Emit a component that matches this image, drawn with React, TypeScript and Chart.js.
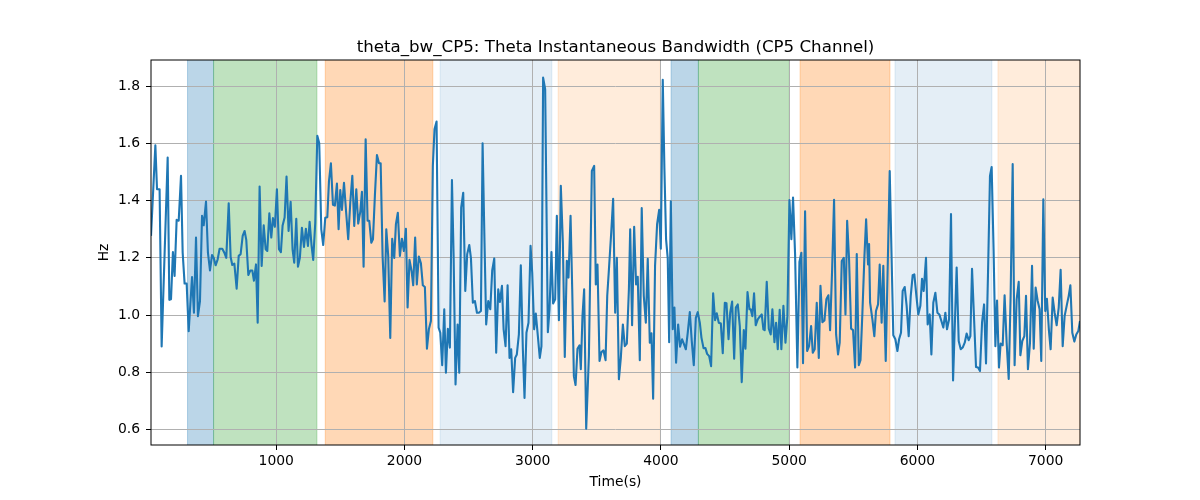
import React, { useEffect, useRef } from "react";
import { Chart, registerables } from "chart.js";

Chart.register(...registerables);

// sample times (s) and theta bandwidth (Hz)
const timeS = [
  23, 57, 70, 90, 106, 153, 166, 179, 194, 207, 223, 239, 257, 270, 285, 301, 317, 343, 358, 374,
  389, 405, 421, 434, 452, 467, 483, 499, 512, 527, 543, 558, 579, 595, 610, 629, 644, 657, 673, 691,
  707, 722, 738, 753, 766, 782, 798, 813, 826, 842, 855, 870, 886, 902, 917, 930, 946,
  961, 974, 989, 1005, 1021, 1036, 1049, 1065, 1080, 1096, 1112, 1127, 1140, 1156, 1169, 1184, 1200,
  1216, 1231, 1247, 1260, 1275, 1288, 1304, 1320, 1335, 1351, 1366, 1382, 1398, 1411, 1426, 1442,
  1457, 1473, 1486, 1499, 1512, 1528, 1543, 1561, 1577, 1593, 1608, 1624, 1639, 1655, 1668, 1681,
  1697, 1712, 1725, 1741, 1754, 1769, 1785, 1801, 1814, 1829, 1845, 1858, 1873, 1889,
  1904, 1920, 1933, 1948, 1964, 1980, 1995, 2011, 2024, 2039, 2055, 2068, 2083, 2096, 2112, 2128,
  2143, 2159, 2175, 2190, 2206, 2221, 2234, 2250, 2266, 2279, 2294, 2310, 2323, 2338, 2354, 2370,
  2383, 2398, 2414, 2427, 2442, 2458, 2474, 2489, 2505, 2518, 2533, 2549, 2565, 2580, 2596, 2609,
  2624, 2637, 2653, 2669, 2684, 2700, 2715, 2731, 2744, 2760, 2773, 2788, 2804, 2819,
  2832, 2847, 2863, 2876, 2892, 2907, 2923, 2936, 2951, 2967, 2983, 2996, 3011, 3024, 3040, 3055,
  3068, 3081, 3097, 3118, 3131, 3146, 3159, 3175, 3188, 3204, 3219, 3235, 3250, 3266, 3279, 3295,
  3308, 3321, 3334, 3349, 3365, 3375, 3388, 3401, 3417, 3438, 3461, 3479, 3492, 3505, 3521, 3536,
  3552, 3568, 3581, 3596, 3612, 3627, 3643, 3656, 3672, 3687, 3703, 3718, 3734, 3750, 3760,
  3775, 3791, 3806, 3819, 3835, 3850, 3866, 3882, 3897, 3913, 3926, 3939, 3954, 3970, 3986, 3999,
  4014, 4027, 4040, 4053, 4064, 4077, 4092, 4105, 4118, 4134, 4149, 4165, 4178, 4194, 4209, 4225,
  4240, 4256, 4272, 4287, 4303, 4316, 4332, 4347, 4360, 4376, 4391, 4407, 4422, 4435, 4451, 4467,
  4482, 4498, 4511, 4527, 4540, 4555, 4571, 4584, 4599, 4615, 4630, 4646, 4659, 4675, 4690,
  4700, 4713, 4726, 4739, 4755, 4770, 4786, 4799, 4809, 4825, 4841, 4856, 4869, 4885, 4898, 4911,
  4926, 4939, 4955, 4971, 4986, 5002, 5017, 5030, 5046, 5064, 5080, 5095, 5108, 5124, 5140, 5155,
  5171, 5184, 5199, 5215, 5231, 5244, 5259, 5275, 5290, 5306, 5319, 5335, 5350, 5366, 5381, 5394,
  5410, 5426, 5439, 5452, 5467, 5483, 5498, 5514, 5527, 5543, 5556, 5571, 5587, 5600, 5615, 5623, 5631,
  5649, 5664, 5677, 5693, 5706, 5721, 5734, 5753, 5784, 5799, 5812, 5828, 5844, 5857, 5872, 5885,
  5901, 5916, 5932, 5948, 5963, 5976, 5992, 6007, 6023, 6036, 6049, 6067, 6080, 6096, 6109, 6124,
  6140, 6156, 6171, 6187, 6202, 6218, 6231, 6247, 6262, 6278, 6306, 6322, 6338, 6353, 6369, 6384,
  6400, 6413, 6426, 6442, 6457, 6473, 6488, 6504, 6520, 6535, 6551, 6566,
  6579, 6594, 6608, 6621, 6636, 6649, 6665, 6680, 6696, 6712, 6727, 6743, 6758, 6774, 6790, 6803,
  6818, 6834, 6847, 6862, 6878, 6894, 6907, 6922, 6938, 6953, 6966, 6982, 6997, 7010, 7026, 7039,
  7055, 7070, 7086, 7102, 7117, 7133, 7148, 7164, 7180, 7193, 7208, 7224, 7239, 7255, 7268,
];

const thetaBwHz = [
  1.277, 1.594, 1.44, 1.44, 0.89, 1.551, 1.053, 1.055, 1.22, 1.137, 1.333, 1.33, 1.487, 1.218, 1.11, 1.11, 0.943, 1.133, 1.008, 1.271,
  0.996, 1.049, 1.347, 1.314, 1.397, 1.218, 1.156, 1.21, 1.2, 1.174, 1.195, 1.232, 1.232, 1.218, 1.2, 1.391, 1.203, 1.175, 1.18, 1.092,
  1.207, 1.213, 1.277, 1.294, 1.263, 1.14, 1.156, 1.156, 1.12, 1.177, 0.973, 1.45, 1.172, 1.314, 1.23, 1.224, 1.356,
  1.271, 1.339, 1.309, 1.44, 1.23, 1.22, 1.312, 1.341, 1.485, 1.294, 1.396, 1.23, 1.183, 1.337, 1.169, 1.2, 1.305,
  1.238, 1.302, 1.242, 1.326, 1.244, 1.193, 1.323, 1.627, 1.601, 1.3, 1.245, 1.34, 1.342, 1.469, 1.531, 1.386,
  1.383, 1.46, 1.3, 1.437, 1.368, 1.463, 1.37, 1.265, 1.393, 1.487, 1.312, 1.44, 1.32, 1.361, 1.431, 1.169,
  1.615, 1.33, 1.33, 1.253, 1.265, 1.417, 1.56, 1.531, 1.531, 1.207, 1.047, 1.3, 1.207, 0.92,
  1.267, 1.2, 1.318, 1.358, 1.207, 1.267, 1.224, 1.302, 1.026, 1.193, 1.154, 1.104, 1.271, 1.107, 1.205, 1.181,
  1.104, 1.098, 0.882, 0.95, 0.979, 1.522, 1.65, 1.677, 0.956, 0.938, 0.824, 1.02, 0.798, 0.952, 0.886, 1.472,
  1.207, 0.757, 0.967, 0.798, 1.376, 1.428, 1.084, 1.213, 1.245, 1.2, 1.043, 1.049, 1.008, 1.008, 1.014, 1.601,
  1.253, 0.967, 1.049, 1.02, 1.156, 1.198, 0.868, 1.09, 1.046, 1.102, 0.95, 0.891, 1.104, 0.85,
  0.88, 0.73, 0.85, 0.862, 0.932, 1.174, 0.88, 0.71, 0.938, 0.973, 1.242, 1.148, 0.95, 1.005, 0.926, 0.85,
  0.891, 1.831, 1.79, 0.94, 1.02, 1.22, 1.04, 1.055, 1.347, 0.982, 1.452, 1.253, 0.853, 1.19, 1.131, 1.347,
  1.09, 0.786, 0.755, 0.882, 0.894, 0.81, 0.996, 1.09, 0.602, 0.856, 1.504, 1.522, 1.107, 1.177, 0.839, 0.87,
  0.876, 0.842, 1.067, 1.172, 1.288, 1.407, 1.008, 1.2, 0.775, 0.85, 0.967, 0.891, 0.9, 1.09, 1.3,
  0.964, 1.309, 1.107, 1.134, 0.842, 1.374, 1.067, 0.973, 1.197, 0.903, 0.936, 0.707, 1.172, 1.318, 1.368, 1.232,
  1.823, 1.51, 1.265, 1.197, 0.905, 1.398, 0.95, 1.026, 0.833, 0.967, 0.889, 0.915, 0.9, 0.88, 0.938, 1.01,
  0.91, 0.824, 0.99, 1.01, 0.973, 0.92, 0.884, 0.884, 0.864, 0.856, 0.821, 1.076, 0.982, 1.006, 0.973, 0.97,
  0.866, 1.043, 1.041, 0.915, 1.008, 1.047, 0.847, 1.026, 1.037, 0.961, 0.765, 0.947, 0.882, 1.08, 1.02,
  1.02, 0.996, 1.076, 0.964, 0.985, 0.994, 1.002, 0.95, 0.947, 1.116, 0.952, 0.932, 1.02, 0.905, 0.973, 0.88,
  1.018, 0.88, 1.032, 0.903, 0.996, 1.402, 1.265, 1.411, 1.213, 0.816, 1.186, 1.218, 0.831, 1.363, 0.874, 0.891,
  0.961, 0.868, 0.88, 1.043, 0.85, 1.102, 0.975, 0.981, 1.055, 1.069, 0.947, 1.16, 1.403, 0.932, 0.862, 0.903,
  1.189, 1.2, 1.002, 1.33, 1.195, 0.952, 0.947, 0.816, 1.213, 0.824, 0.842, 1.008, 1.207, 1.335, 1.177, 1.248, 1.043,
  0.985, 0.926, 1.014, 1.037, 1.177, 0.973, 1.172, 0.839, 1.504, 1.195, 0.929, 0.915, 0.874, 0.915, 0.938, 1.084,
  1.098, 1.032, 0.926, 1.067, 1.139, 1.142, 1.067, 1.002, 1.032, 1.127, 1.084, 1.2, 0.967, 1.002, 0.862, 1.043,
  1.078, 1.008, 1.002, 0.979, 0.956, 1.008, 0.95, 0.985, 1.353, 0.771, 1.166, 0.909, 0.88, 0.886, 0.903, 0.935,
  0.912, 0.926, 1.162, 0.985, 0.818, 0.816, 0.804, 0.973, 1.037, 0.83, 1.154, 1.487,
  1.518, 1.23, 0.891, 1.051, 0.816, 0.9, 0.894, 1.069, 0.903, 0.776, 1.067, 1.528, 0.824, 1.055, 1.116, 0.859,
  0.909, 0.926, 1.067, 0.81, 0.903, 1.172, 0.882, 1.096, 1.049, 1.02, 0.839, 1.405, 1.014, 1.057, 0.944, 0.88,
  1.061, 1.008, 0.964, 1.026, 1.158, 0.891, 0.996, 1.032, 1.067, 1.104, 0.938, 0.907, 0.932, 0.944, 0.979,
];

// shaded phases (seconds)
const phaseStart = [308, 511, 1382, 2278, 3198, 4079, 4292, 5085, 5825, 6628];
const phaseEnd = [511, 1317, 2221, 3149, 3995, 4292, 5001, 5786, 6581, 7268];
const phaseKind = ["a", "b", "c", "d", "e", "a", "b", "c", "d", "e"];

const xTicks = [1000, 2000, 3000, 4000, 5000, 6000, 7000];
const yTicks = [0.6, 0.8, 1.0, 1.2, 1.4, 1.6, 1.8];

const phaseColor: Record<string, string> = {
  a: "rgba(31,119,180,0.3)",
  b: "rgba(44,160,44,0.3)",
  c: "rgba(255,127,14,0.3)",
  d: "rgba(31,119,180,0.12)",
  e: "rgba(255,127,14,0.15)",
};

const TITLE = "theta_bw_CP5: Theta Instantaneous Bandwidth (CP5 Channel)";
const FONT = "'DejaVu Sans', sans-serif";

const phasesPlugin = {
  id: "phases",
  beforeDraw(chart: any) {
    const { ctx, chartArea } = chart;
    const x = chart.scales.x;
    ctx.save();
    ctx.beginPath();
    ctx.rect(chartArea.left, chartArea.top, chartArea.width, chartArea.height);
    ctx.clip();
    phaseStart.forEach((s, i) => {
      const x0 = x.getPixelForValue(s);
      const x1 = x.getPixelForValue(phaseEnd[i]);
      ctx.fillStyle = phaseColor[phaseKind[i]];
      ctx.fillRect(x0, chartArea.top, x1 - x0, chartArea.height);
      ctx.strokeStyle = phaseColor[phaseKind[i]];
      ctx.lineWidth = 1;
      ctx.beginPath();
      ctx.moveTo(x0, chartArea.top);
      ctx.lineTo(x0, chartArea.bottom);
      ctx.moveTo(x1, chartArea.top);
      ctx.lineTo(x1, chartArea.bottom);
      ctx.stroke();
    });
    ctx.restore();
  },
  afterDraw(chart: any) {
    const { ctx, chartArea } = chart;
    ctx.save();
    ctx.strokeStyle = "#000";
    ctx.lineWidth = 1;
    ctx.strokeRect(chartArea.left, chartArea.top, chartArea.width, chartArea.height);
    ctx.fillStyle = "#000";
    ctx.font = `16.67px ${FONT}`;
    ctx.textAlign = "center";
    ctx.textBaseline = "alphabetic";
    ctx.fillText(TITLE, (chartArea.left + chartArea.right) / 2, 52);
    ctx.restore();
  },
};

const ThetaChart = () => {
  const canvasRef = useRef<HTMLCanvasElement>(null);

  useEffect(() => {
    const ctx = canvasRef.current!.getContext("2d")!;
    Chart.defaults.font.family = FONT;
    Chart.defaults.font.size = 13.9;
    Chart.defaults.color = "#000";

    const chart = new Chart(ctx, {
      type: "line",
      data: {
        datasets: [
          {
            label: "theta_bw_CP5",
            data: timeS.map((t, i) => ({ x: t, y: thetaBwHz[i] })),
            borderColor: "#1f77b4",
            borderWidth: 2.1,
            pointRadius: 0,
            tension: 0,
            borderJoinStyle: "round",
            fill: false,
          },
        ],
      },
      options: {
        animation: false,
        responsive: false,
        devicePixelRatio: 1,
        layout: { padding: { left: 90, right: 120, top: 60, bottom: 0 } },
        plugins: {
          legend: { display: false },
          tooltip: { enabled: false },
          title: { display: false },
        },
        scales: {
          x: {
            type: "linear",
            min: 23,
            max: 7268,
            afterFit: (s: any) => {
              s.height = 55;
            },
            afterBuildTicks: (s: any) => {
              s.ticks = xTicks.map((v) => ({ value: v }));
            },
            ticks: {
              padding: 3,
              maxRotation: 0,
              callback: (v: any) => String(v),
            },
            grid: { color: "#b0b0b0", lineWidth: 1, tickColor: "#000", tickLength: 5 },
            border: { display: false },
            title: { display: true, text: "Time(s)", padding: { top: 0, bottom: 9 } },
          },
          y: {
            min: 0.545,
            max: 1.8925,
            afterFit: (s: any) => {
              s.width = 61;
            },
            afterBuildTicks: (s: any) => {
              s.ticks = yTicks.map((v) => ({ value: v }));
            },
            ticks: {
              padding: 6,
              callback: (v: any) => Number(v).toFixed(1),
            },
            grid: { color: "#b0b0b0", lineWidth: 1, tickColor: "#000", tickLength: 5 },
            border: { display: false },
            title: { display: true, text: "Hz", padding: { top: 6, bottom: 0 } },
          },
        },
      },
      plugins: [phasesPlugin],
    });

    return () => {
      chart.destroy();
    };
  }, []);

  return (
    <div style={{ position: "absolute", left: 0, top: 0, width: 1200, height: 500, background: "#fff" }}>
      <canvas ref={canvasRef} width="1200" height="500" style={{ width: 1200, height: 500 }}></canvas>
    </div>
  );
};

export default function App() {
  return <ThetaChart />;
}
